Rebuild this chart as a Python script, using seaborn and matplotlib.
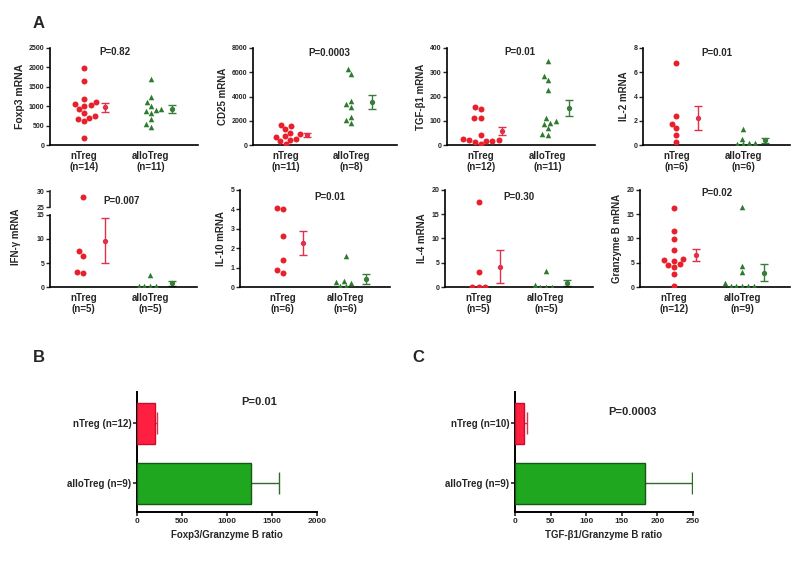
import numpy as np
import pandas as pd
import seaborn as sns
import matplotlib.pyplot as plt

sns.set_style("white")
plt.rcParams["font.family"] = ["Liberation Sans", "DejaVu Sans"]
plt.rcParams["font.weight"] = "bold"

groups = ["nTreg", "alloTreg"]

# panel A values
foxp3_n = [1990, 1650, 1180, 1100, 1050, 1020, 1000, 930, 830, 740, 700, 660, 610, 170]
foxp3_a = [1700, 1230, 1100, 1000, 930, 900, 880, 820, 670, 550, 460]
cd25_n = [1650, 1550, 1300, 1000, 870, 750, 680, 520, 450, 330, 80]
cd25_a = [6250, 5850, 3600, 3350, 3100, 2350, 2100, 1850]
tgfb_n = [155, 148, 112, 112, 40, 25, 22, 20, 18, 15, 12, 3]
tgfb_a = [345, 285, 268, 225, 110, 98, 92, 88, 70, 45, 40]
il2_n = [6.8, 2.4, 1.75, 1.4, 0.8, 0.25]
il2_a = [1.35, 0.5, 0.15, 0.1, 0.05, 0.15]
ifng_n = [28, 7.4, 6.5, 3.2, 3.0]
ifng_a = [2.5, 0.3, 0.3, 0.3, 0.3]
il10_n = [4.08, 4.02, 2.65, 1.38, 0.88, 0.72]
il10_a = [1.6, 0.32, 0.22, 0.05, 0.05, 0.25]
il4_n = [17.5, 3.0, 0.1, 0.1, 0.1]
il4_a = [3.3, 0.05, 0.05, 0.05, 0.4]
gzmb_n = [16.2, 11.6, 9.8, 7.7, 5.7, 5.5, 5.4, 4.7, 4.6, 4.1, 2.6, 0.3]
gzmb_a = [16.4, 4.3, 3.1, 0.8, 0.3, 0.3, 0.3, 0.3, 0.3]

# panels B and C (mean, SEM)
foxgzm_labels = ["nTreg (n=12)", "alloTreg (n=9)"]
foxgzm_mean = [200, 1265]
foxgzm_sem = [25, 315]
tgfgzm_labels = ["nTreg (n=10)", "alloTreg (n=9)"]
tgfgzm_mean = [13, 183]
tgfgzm_sem = [4, 66]

RED = "#e8202c"
RED_ERR = "#e0304a"
GREEN = "#2e7a2e"
GREEN_ERR = "#3a7d3a"
BAR_RED = "#ff1f3f"
BAR_GREEN = "#1fa81f"

W, H = 800, 562
fig = plt.figure(figsize=(8, 5.62), dpi=100)


def add_ax(left, top, right, bottom):
    return fig.add_axes([left / W, 1 - bottom / H, (right - left) / W, (bottom - top) / H])


def style_ax(ax, yticks):
    sns.despine(ax=ax)
    for s in ["left", "bottom"]:
        ax.spines[s].set_linewidth(1.2)
        ax.spines[s].set_color("black")
    ax.set_yticks(yticks)
    ax.tick_params(axis="y", length=3, width=1, labelsize=5, pad=1, left=True)
    ax.tick_params(axis="x", length=0, labelsize=7, pad=4)


def dots(ax, vals_n, vals_a):
    df = pd.DataFrame({"group": ["nTreg"] * len(vals_n) + ["alloTreg"] * len(vals_a),
                       "value": list(vals_n) + list(vals_a)})
    sns.swarmplot(data=df[df.group == "nTreg"], x="group", y="value", order=groups,
                  color=RED, marker="o", size=4.3, linewidth=0, ax=ax)
    sns.swarmplot(data=df[df.group == "alloTreg"], x="group", y="value", order=groups,
                  color=GREEN, marker="^", size=4, linewidth=0, ax=ax)


def mean_sem(ax, vals_n, vals_a):
    for i, (vals, c) in enumerate([(vals_n, RED_ERR), (vals_a, GREEN_ERR)]):
        m = np.mean(vals)
        s = np.std(vals, ddof=1) / np.sqrt(len(vals))
        ax.errorbar(i + 0.32, m, yerr=s, fmt="o", ms=2.8, color=c, capsize=3,
                    elinewidth=1, capthick=1)


def dot_panel(box, vals_n, vals_a, ylabel, ymax, yticks, ptext, px, py=0.95,
              xlo=-0.5, ylfs=7, shown_n=None):
    ax = add_ax(*box)
    dots(ax, vals_n if shown_n is None else shown_n, vals_a)
    mean_sem(ax, vals_n, vals_a)
    ax.set_xlim(xlo, 1.7)
    ax.set_ylim(0, ymax)
    style_ax(ax, yticks)
    ax.set_xticks([0, 1])
    ax.set_xticklabels([f"nTreg\n(n={len(vals_n)})", f"alloTreg\n(n={len(vals_a)})"],
                       fontweight="bold")
    ax.set_xlabel("")
    ax.set_ylabel(ylabel, fontsize=ylfs, fontweight="bold", labelpad=3)
    if ptext:
        ax.text(px, py, ptext, transform=ax.transAxes, ha="center", va="center",
                fontsize=7, fontweight="bold")
    return ax


# row 1
dot_panel((50, 48, 198, 145), foxp3_n, foxp3_a, "Foxp3 mRNA", 2500,
          [0, 500, 1000, 1500, 2000, 2500], "P=0.82", 0.44, 0.96, ylfs=7.5)
dot_panel((253, 48, 397, 145), cd25_n, cd25_a, "CD25 mRNA", 8000,
          [0, 2000, 4000, 6000, 8000], "P=0.0003", 0.53)
dot_panel((447, 48, 595, 145), tgfb_n, tgfb_a, "TGF-β1 mRNA", 400,
          [0, 100, 200, 300, 400], "P=0.01", 0.49, 0.96)
dot_panel((643, 48, 790, 145), il2_n, il2_a, "IL-2 mRNA", 8,
          [0, 2, 4, 6, 8], "P=0.01", 0.5)

# row 2, IFN-gamma with a broken axis (0-15 and 25-30)
ifng_low = dot_panel((50, 215, 197, 287), ifng_n, ifng_a, "IFN-γ mRNA", 15,
                     [0, 5, 10, 15], "", 0.5, shown_n=[v for v in ifng_n if v <= 15])
ifng_low.yaxis.set_label_coords(-0.2, 0.7)

ifng_top = add_ax(50, 191, 197, 207)
high = [v for v in ifng_n if v > 15]
sns.swarmplot(x=["nTreg"] * len(high), y=high, order=groups, color=RED, marker="o",
              size=4.3, linewidth=0, ax=ifng_top)
ifng_top.set_xlim(-0.5, 1.7)
ifng_top.set_ylim(25, 30)
sns.despine(ax=ifng_top, bottom=True)
ifng_top.spines["left"].set_linewidth(1.2)
ifng_top.set_yticks([25, 30])
ifng_top.set_xticks([])
ifng_top.set_ylabel("")
ifng_top.tick_params(axis="y", length=3, width=1, labelsize=5, pad=1, left=True)
ifng_top.text(0.49, 0.4, "P=0.007", transform=ifng_top.transAxes, ha="center",
              va="center", fontsize=7, fontweight="bold")

dot_panel((240, 190, 390, 287), il10_n, il10_a, "IL-10 mRNA", 5,
          [0, 1, 2, 3, 4, 5], "P=0.01", 0.6, 0.93, xlo=-0.68)
dot_panel((445, 190, 593, 287), il4_n, il4_a, "IL-4 mRNA", 20,
          [0, 5, 10, 15, 20], "P=0.30", 0.5, 0.93)
dot_panel((640, 190, 790, 287), gzmb_n, gzmb_a, "Granzyme B mRNA", 20,
          [0, 5, 10, 15, 20], "P=0.02", 0.51, 0.97)


# panels B and C
def ratio_panel(box, labels, means, sems, xmax, xticks, xlabel, ptext, px, py):
    ax = add_ax(*box)
    sns.barplot(x=means, y=labels, hue=labels, palette=[BAR_RED, BAR_GREEN], legend=False,
                orient="h", width=0.68, errorbar=None, saturation=1, ax=ax, zorder=3)
    for p, ec in zip(ax.patches, ["#c8102e", "#145a14"]):
        p.set_edgecolor(ec)
        p.set_linewidth(1)
    for i, (m, s, c) in enumerate(zip(means, sems, [RED_ERR, "#2f6b2f"])):
        ax.hlines(i, m, m + s, color=c, lw=1, zorder=2)
        ax.vlines(m + s, i - 0.18, i + 0.18, color=c, lw=1, zorder=2)
    ax.set_xlim(0, xmax)
    ax.set_ylim(1.48, -0.52)
    sns.despine(ax=ax)
    for s in ["left", "bottom"]:
        ax.spines[s].set_linewidth(1.4)
        ax.spines[s].set_color("black")
    ax.set_xticks(xticks)
    ax.tick_params(axis="x", length=3, width=1.2, labelsize=6, pad=1, bottom=True)
    ax.tick_params(axis="y", length=3, width=1.2, labelsize=7, pad=1, left=True)
    for t in ax.get_yticklabels() + ax.get_xticklabels():
        t.set_fontweight("bold")
    ax.set_xlabel(xlabel, fontsize=7, fontweight="bold", labelpad=4)
    ax.set_ylabel("")
    ax.text(px, py, ptext, transform=ax.transAxes, ha="center", va="center",
            fontsize=8, fontweight="bold")
    return ax


ratio_panel((137, 392, 317, 512), foxgzm_labels, foxgzm_mean, foxgzm_sem, 2000,
            [0, 500, 1000, 1500, 2000], "Foxp3/Granzyme B ratio", "P=0.01", 0.68, 0.92)
ratio_panel((515, 392, 693, 512), tgfgzm_labels, tgfgzm_mean, tgfgzm_sem, 250,
            [0, 50, 100, 150, 200, 250], "TGF-β1/Granzyme B ratio", "P=0.0003", 0.66, 0.83)

fig.text(33 / W, 1 - 23 / H, "A", fontsize=12, fontweight="bold", va="center")
fig.text(33 / W, 1 - 357 / H, "B", fontsize=12, fontweight="bold", va="center")
fig.text(412 / W, 1 - 357 / H, "C", fontsize=12, fontweight="bold", va="center")

fig.savefig("out.png", dpi=100)
